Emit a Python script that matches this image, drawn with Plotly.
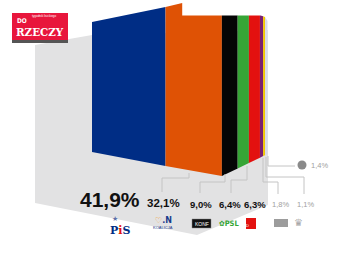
import numpy as np
import plotly.graph_objects as go

# ---- data ----
parties = ["PiS", "KO", "Konfederacja", "PSL", "SLD", "Wiosna", "Korona", "Bezpartyjni"]
values = [41.9, 32.1, 9.0, 6.4, 6.3, 1.8, 1.1, 1.4]
labels = ["41,9%", "32,1%", "9,0%", "6,4%", "6,3%", "1,8%", "1,1%", "1,4%"]

# ---- style ----
colors = ["#002d85", "#df5205", "#050505", "#36a536", "#e3110f", "#7a2070", "#f2c500", "#d9d9e6"]
W, H = 360, 259
X0, K = 92, 1.755          # pixel of 0 %, pixels per %
TOP_P = [0, 41.9, 51.4, 51.4, 96.0, 98.6, 100]
TOP_Y = [22, 7, 3, 15.5, 15.5, 17, 21]
BOT_P = [0, 41.9, 74.0, 100]
BOT_Y = [152, 166, 176, 154]

def prof_pts(P, Y, s, e):
    pts = [(s, float(np.interp(s, P, Y)))]
    for p, y in zip(P, Y):
        if s < p < e:
            pts.append((p, y))
    pts.append((e, float(np.interp(e, P, Y))))
    return pts

fig = go.Figure()

def px(x):
    return x / W

# grey shadow behind
fig.add_shape(type="path", xref="paper", yref="y",
              path=f"M {px(35)} 45 L {px(92)} 35 L {px(268)} 30 L {px(268)} 205 L {px(197)} 235 L {px(35)} 203 Z",
              fillcolor="#e2e2e3", line_width=0, layer="below")

cum = np.concatenate([[0], np.cumsum(values)])
for i, (name, v) in enumerate(zip(parties, values)):
    s, e = cum[i], cum[i + 1]
    top = prof_pts(TOP_P, TOP_Y, s, e)
    bot = prof_pts(BOT_P, BOT_Y, s, e)[::-1]
    xs = [p for p, _ in top] + [p for p, _ in bot]
    ys = [y for _, y in top] + [y for _, y in bot]
    fig.add_trace(go.Scatter(x=xs, y=ys, fill="toself", fillcolor=colors[i],
                             mode="lines", line=dict(width=0, color=colors[i]),
                             name=name, hoverinfo="name", showlegend=False))

# leader lines (pixel coords)
LC = "#c4c4c4"
leaders = [
    [(189, 173), (189, 178), (162, 178), (162, 192)],
    [(225, 174), (225, 182), (200, 182), (200, 193)],
    [(247, 166), (247, 180), (231, 180), (231, 193)],
    [(263, 158), (263, 182), (278, 182), (278, 194)],
    [(266, 157), (266, 177), (304, 177), (304, 194)],
    [(268, 156), (268, 166), (295, 166)],
]
for ln in leaders:
    path = "M " + " L ".join(f"{px(x)} {y}" for x, y in ln)
    fig.add_shape(type="path", xref="paper", yref="y", path=path,
                  line=dict(color=LC, width=1))

FONT = "Liberation Sans, Arial, sans-serif"
lab_x = [110, 163.5, 200.5, 230.5, 254.5, 280, 305, 319.5]
lab_y = [199, 203, 204, 204, 204, 204, 204, 165]
lab_s = [21, 11.5, 9.5, 9.5, 9.5, 7.5, 7.5, 7.5]
lab_c = ["#111", "#111", "#111", "#111", "#111", "#a0a0a0", "#a0a0a0", "#a0a0a0"]
lab_b = [True, True, True, True, True, False, False, False]
for t, x, y, sz, c, b in zip(labels, lab_x, lab_y, lab_s, lab_c, lab_b):
    fig.add_annotation(text=f"<b>{t}</b>" if b else t, x=px(x), y=y, xref="paper", yref="y",
                       showarrow=False, font=dict(family=FONT, size=sz, color=c),
                       xanchor="center", yanchor="middle")

# grey dot icon for 1,4%
fig.add_shape(type="circle", xref="paper", yref="y", x0=px(297.5), x1=px(306.5), y0=160.5, y1=169.5,
              fillcolor="#8a8a8a", line_width=0)

# party "logos"
fig.add_annotation(text="<b>P<span style='color:#e3110f'>i</span>S</b>", x=px(108), y=230,
                   xref="paper", yref="y", showarrow=False,
                   font=dict(family="DejaVu Serif, serif", size=11, color="#002d85"))
fig.add_annotation(text="★", x=px(110), y=219, xref="paper", yref="y", showarrow=False,
                   font=dict(family="DejaVu Sans", size=7, color="#6070a8"))
fig.add_annotation(text="<b><span style='color:#f0a030'>♡</span>.N</b>", x=px(163), y=220,
                   xref="paper", yref="y", showarrow=False,
                   font=dict(family="DejaVu Sans", size=8, color="#1a3c8c"))
fig.add_annotation(text="KOALICJA", x=px(163), y=227, xref="paper", yref="y", showarrow=False,
                   font=dict(family=FONT, size=4, color="#1a3c8c"))
fig.add_shape(type="rect", xref="paper", yref="y", x0=px(192), x1=px(211), y0=219, y1=228,
              fillcolor="#111", line=dict(color="#888", width=0.5))
fig.add_annotation(text="KONF", x=px(201.5), y=223.5, xref="paper", yref="y", showarrow=False,
                   font=dict(family=FONT, size=5, color="white"))
fig.add_annotation(text="<b>✿PSL</b>", x=px(229.5), y=223, xref="paper", yref="y", showarrow=False,
                   font=dict(family="DejaVu Sans Condensed, DejaVu Sans", size=7.5, color="#36a536"))
fig.add_shape(type="rect", xref="paper", yref="y", x0=px(246), x1=px(256), y0=218, y1=229,
              fillcolor="#e3110f", line_width=0)
fig.add_annotation(text="SLD", x=px(251), y=225, xref="paper", yref="y", showarrow=False,
                   font=dict(family=FONT, size=4, color="white"))
fig.add_shape(type="rect", xref="paper", yref="y", x0=px(274), x1=px(288), y0=219, y1=227,
              fillcolor="#9c9c9c", line_width=0)
fig.add_annotation(text="♛", x=px(305), y=222, xref="paper", yref="y", showarrow=False,
                   font=dict(family="DejaVu Sans", size=10, color="#a8a8a8"))

# Do Rzeczy masthead
fig.add_shape(type="rect", xref="paper", yref="y", x0=px(12), x1=px(68), y0=40, y1=43,
              fillcolor="#555", line_width=0)
fig.add_shape(type="rect", xref="paper", yref="y", x0=px(12), x1=px(68), y0=13, y1=40,
              fillcolor="#e8163c", line_width=0)
fig.add_annotation(text="tygodnik lisickiego", x=px(30), y=15.5, xref="paper", yref="y", showarrow=False,
                   font=dict(family=FONT, size=3, color="white"))
fig.add_annotation(text="<b>DO</b>", x=px(15), y=20.5, xref="paper", yref="y", showarrow=False,
                   xanchor="left", font=dict(family="DejaVu Sans Condensed, sans-serif", size=6.5, color="white"))
fig.add_annotation(text="<b>RZECZY</b>", x=px(14), y=31.5, xref="paper", yref="y", showarrow=False,
                   xanchor="left", font=dict(family="DejaVu Serif Condensed, DejaVu Serif, serif", size=11.5, color="white"))

fig.update_layout(
    width=W, height=H, margin=dict(l=0, r=0, t=0, b=0),
    paper_bgcolor="white", plot_bgcolor="white", showlegend=False,
    xaxis=dict(range=[-X0 / K, (W - X0) / K], visible=False, fixedrange=True),
    yaxis=dict(range=[H, 0], visible=False, fixedrange=True),
)
fig.write_html("out.html")
